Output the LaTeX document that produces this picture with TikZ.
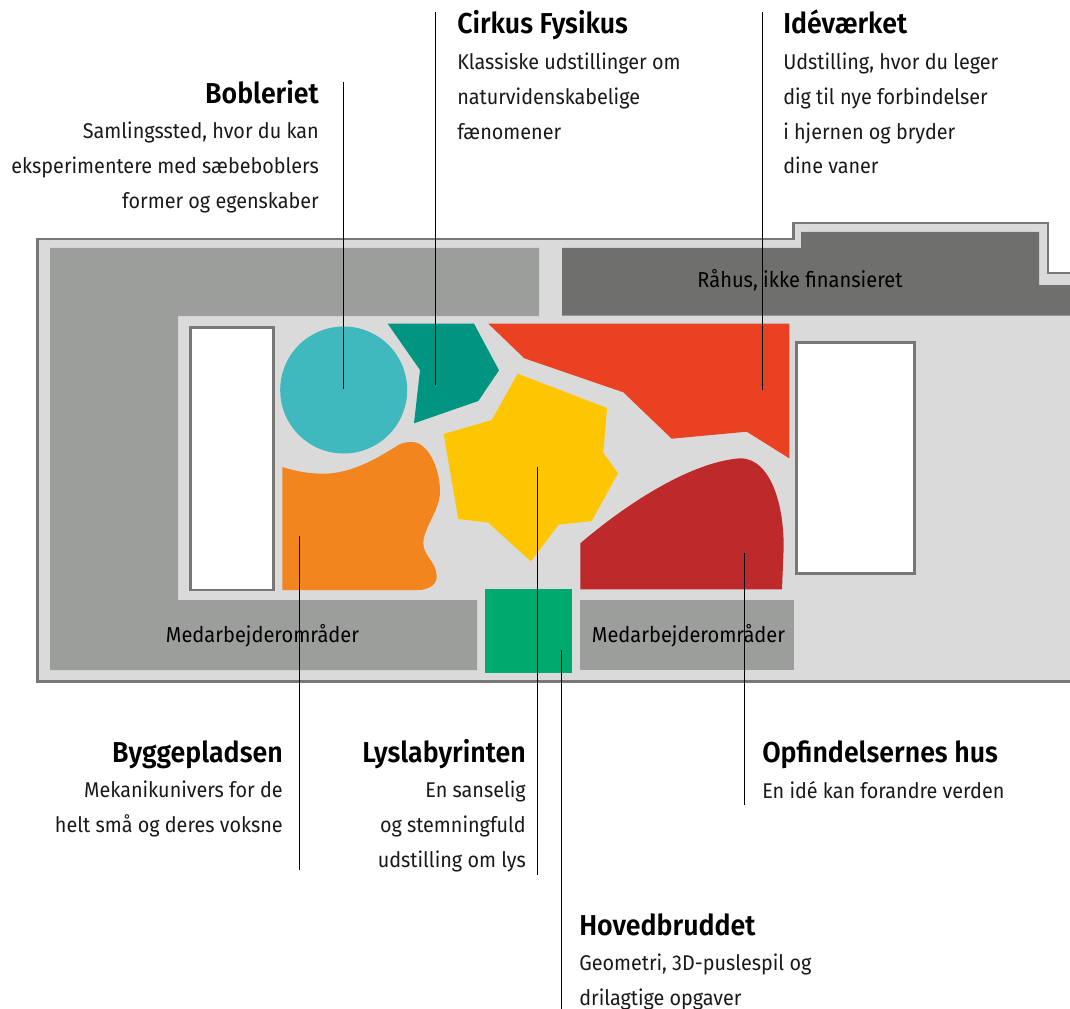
\documentclass[tikz,border=0pt]{standalone}
\usepackage{fontspec}
\setmainfont[FakeStretch=0.928,BoldFont={Fira Sans SemiBold}]{Fira Sans}
\usetikzlibrary{positioning}
\definecolor{outline}{HTML}{777776}
\definecolor{floor}{HTML}{DADADA}
\definecolor{staff}{HTML}{9C9E9C}
\definecolor{rawhouse}{HTML}{6F6F6D}
\definecolor{bubble}{HTML}{40B9BE}
\definecolor{circus}{HTML}{009581}
\definecolor{idea}{HTML}{EA4122}
\definecolor{light}{HTML}{FEC600}
\definecolor{build}{HTML}{F2851E}
\definecolor{invent}{HTML}{BE2A2C}
\definecolor{puzzle}{HTML}{00A96D}
\tikzstyle{title}=[inner sep=0pt,font=\fontsize{21.6}{24}\selectfont\bfseries,text=black,text depth=5pt]
\tikzstyle{titleleft}=[title,anchor=base west]
\tikzstyle{titleright}=[title,anchor=base east]
\tikzstyle{body}=[inner sep=0pt,font=\fontsize{16}{26.2}\selectfont,text=black!90]
\tikzstyle{bodyleft}=[body,align=left,anchor=north west]
\tikzstyle{bodyright}=[body,align=right,anchor=north east]
\tikzstyle{area}=[inner sep=0pt,font=\fontsize{16.2}{18}\selectfont,text=black,anchor=base]
\tikzstyle{hole}=[draw=outline,fill=white,line width=2.2pt]
\tikzstyle{leader}=[black,line width=0.75pt]

\begin{document}
\begin{tikzpicture}[x=0.75pt,y=-0.75pt]
\useasboundingbox (0,0) rectangle (1070,1009);

% building
\begin{scope}
\clip (0,0) rectangle (1070,1009);
\draw [draw=outline,fill=floor,line width=2.2pt] (1080,681.5) -- (37.5,681.5) -- (37.5,239) -- (793.5,239) -- (793.5,223) -- (1048,223) -- (1048,273) -- (1080,273) ;
\end{scope}
\fill [staff] (50,248) -- (539,248) -- (539,316) -- (178,316) -- (178,600) -- (477,600) -- (477,670) -- (50,670) -- cycle ;
\fill [staff] (580,600) rectangle (794,670) ;
\fill [rawhouse] (562,248) -- (801,248) -- (801,232) -- (1039,232) -- (1039,285) -- (1070,285) -- (1070,315.5) -- (562,315.5) -- cycle ;
\draw [hole] (190.5,327.5) rectangle (273.5,590) ;
\draw [hole] (796.5,342.5) rectangle (914.5,573.5) ;

% exhibitions
\fill [bubble] (343.7,390) circle [radius=63.5] ;
\fill [circus] (387.7,323.7) -- (474,323.7) -- (499,370.3) -- (478.3,401) -- (414,423.3) -- (420,370) -- cycle ;
\fill [idea] (488.3,323.7) -- (789.3,323.7) -- (789.3,458.3) -- (746.7,431.7) -- (671.7,438.7) -- (623.3,392.3) -- (524.3,358.3) -- cycle ;
\fill [light] (517.7,373.7) -- (607,408) -- (603.3,452.7) -- (618,473.3) -- (591.7,521) -- (558.7,524.7) -- (530.7,561.3) -- (488.3,522.7) -- (458.3,519) -- (443.7,434) -- (491.7,420) -- cycle ;
\fill [build] (282.3,467) .. controls (295,471) and (308,473.7) .. (323.3,473.7) .. controls (350,473.7) and (375,460) .. (398.3,445) .. controls (402,443) and (407,442) .. (411.7,442) .. controls (428,442) and (440,468) .. (440,491.7) .. controls (440,510) and (423.3,528) .. (423.3,543.3) .. controls (423.3,556) and (436.7,562) .. (436.7,576.7) .. controls (436.7,585) and (428,590) .. (418.3,590) -- (282.3,590) -- cycle ;
\fill [invent] (580.3,543.3) .. controls (625,505) and (690,462) .. (740,458.3) .. controls (772,458) and (786,510) .. (783.3,556.7) -- (782,589.3) -- (580.3,589.3) -- cycle ;
\fill [puzzle] (485,589) rectangle (572,673) ;

% area names
\node (rawhouse) [area] at (800,287) {Råhus, ikke finansieret} ;
\node (staffleft) [area] at (262.5,642) {Medarbejderområder} ;
\node (staffright) [area] at (688.5,642) {Medarbejderområder} ;

% top labels
\node (bobleriet) [titleright] at (319,104) {Bobleriet} ;
\node (boblerietbody) [bodyright,below=7.8pt of bobleriet.south east,anchor=north east] {Samlingssted, hvor du kan\\eksperimentere med sæbeboblers\\former og egenskaber} ;
\node (cirkus) [titleleft] at (457,34) {Cirkus Fysikus} ;
\node (cirkusbody) [bodyleft,below=8.5pt of cirkus.south west,anchor=north west] {Klassiske udstillinger om\\naturvidenskabelige\\fænomener} ;
\node (idevaerket) [titleleft] at (783,34) {Idéværket} ;
\node (idevaerketbody) [bodyleft,below=8.5pt of idevaerket.south west,anchor=north west] {Udstilling, hvor du leger\\dig til nye forbindelser\\i hjernen og bryder\\dine vaner} ;

% bottom labels
\node (byggepladsen) [titleright] at (283,762) {Byggepladsen} ;
\node (byggepladsenbody) [bodyright,below=9pt of byggepladsen.south east,anchor=north east] {Mekanikunivers for de\\helt små og deres voksne} ;
\node (lyslabyrinten) [titleright] at (526,762) {Lyslabyrinten} ;
\node (lyslabyrintenbody) [bodyright,below=9pt of lyslabyrinten.south east,anchor=north east] {En sanselig\\og stemningfuld\\udstilling om lys} ;
\node (opfindelser) [titleleft] at (762,762) {Opfindelsernes hus} ;
\node (opfindelserbody) [bodyleft,below=9pt of opfindelser.south west,anchor=north west] {En idé kan forandre verden} ;
\node (hovedbruddet) [titleleft] at (579,935) {Hovedbruddet} ;
\node (hovedbruddetbody) [bodyleft,below=8.6pt of hovedbruddet.south west,anchor=north west] {Geometri, 3D-puslespil og\\drilagtige opgaver} ;

% leader ends
\coordinate (boblerietstart) at (343.5,82) ;
\coordinate (boblerietend) at (343.5,389) ;
\coordinate (cirkusstart) at (435.5,12) ;
\coordinate (cirkusend) at (435.5,385) ;
\coordinate (idevaerketstart) at (762.5,12) ;
\coordinate (idevaerketend) at (762.5,390) ;
\coordinate (byggepladsenstart) at (299.5,870) ;
\coordinate (byggepladsenend) at (299.5,536) ;
\coordinate (lyslabyrintenstart) at (537.5,875) ;
\coordinate (lyslabyrintenend) at (537.5,467) ;
\coordinate (hovedbruddetstart) at (561.5,1009) ;
\coordinate (hovedbruddetend) at (561.5,650) ;
\coordinate (opfindelserstart) at (744.5,805) ;
\coordinate (opfindelserend) at (744.5,553) ;

\draw [leader] (boblerietstart) -- (boblerietend) ;
\draw [leader] (cirkusstart) -- (cirkusend) ;
\draw [leader] (idevaerketstart) -- (idevaerketend) ;
\draw [leader] (byggepladsenstart) -- (byggepladsenend) ;
\draw [leader] (lyslabyrintenstart) -- (lyslabyrintenend) ;
\draw [leader] (hovedbruddetstart) -- (hovedbruddetend) ;
\draw [leader] (opfindelserstart) -- (opfindelserend) ;

\end{tikzpicture}
\end{document}
